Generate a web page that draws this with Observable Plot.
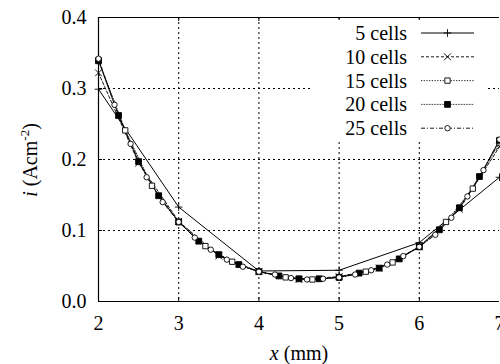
<!DOCTYPE html>
<html><head><meta charset="utf-8">
<script src="https://cdn.jsdelivr.net/npm/d3@7"></script>
<script src="https://cdn.jsdelivr.net/npm/@observablehq/plot@0.6"></script>
<style>
html,body{margin:0;padding:0;background:#fff;}
#chart svg{display:block;}
#chart svg, #chart svg text{font-family:"Liberation Serif","DejaVu Serif",serif !important;}
</style>
</head><body><div id="chart"></div>
<script>
const seriesNames = ["5 cells", "10 cells", "15 cells", "20 cells", "25 cells"];

const x5 = [2, 3, 4, 5, 6, 7];
const i5 = [0.299, 0.133, 0.043, 0.044, 0.083, 0.175];

const x10 = [2, 2.5, 3, 3.5, 4, 4.5, 5, 5.5, 6, 6.5, 7];
const i10 = [0.322, 0.195, 0.113, 0.064, 0.042, 0.031, 0.035, 0.047, 0.077, 0.130, 0.218];

const x15 = [2, 2.333, 2.667, 3, 3.333, 3.667, 4, 4.333, 4.667, 5, 5.333, 5.667, 6, 6.333, 6.667, 7];
const i15 = [0.340, 0.241, 0.163, 0.112, 0.078, 0.056, 0.042, 0.034, 0.031, 0.034, 0.042, 0.055, 0.077, 0.112, 0.159, 0.224];

const x20 = [2, 2.25, 2.5, 2.75, 3, 3.25, 3.5, 3.75, 4, 4.25, 4.5, 4.75, 5, 5.25, 5.5, 5.75, 6, 6.25, 6.5, 6.75, 7];
const i20 = [0.339, 0.262, 0.197, 0.149, 0.112, 0.085, 0.066, 0.052, 0.042, 0.036, 0.032, 0.032, 0.034, 0.040, 0.047, 0.060, 0.077, 0.101, 0.132, 0.176, 0.227];

const x25 = [2, 2.2, 2.4, 2.6, 2.8, 3, 3.2, 3.4, 3.6, 3.8, 4, 4.2, 4.4, 4.6, 4.8, 5, 5.2, 5.4, 5.6, 5.8, 6, 6.2, 6.4, 6.6, 6.8, 7];
const i25 = [0.342, 0.277, 0.222, 0.175, 0.140, 0.112, 0.090, 0.073, 0.059, 0.049, 0.042, 0.038, 0.033, 0.031, 0.032, 0.034, 0.038, 0.044, 0.052, 0.064, 0.077, 0.094, 0.118, 0.148, 0.185, 0.228];

const xTicks = [2, 3, 4, 5, 6, 7];
const yTicks = [0, 0.1, 0.2, 0.3, 0.4];
const xGrid = [3, 4, 5, 6];
const yGrid = [0.1, 0.2, 0.3];

const seriesX = [x5, x10, x15, x20, x25];
const seriesY = [i5, i10, i15, i20, i25];

const styles = [
  {dash: null, symbol: "plus", d3sym: d3.symbolPlus, fill: "none", stroke: "black", r: 2.6, sw: 1},
  {dash: "3,2", symbol: "times", d3sym: d3.symbolTimes, fill: "none", stroke: "black", r: 3.2, sw: 0.9},
  {dash: "1.2,1.5", symbol: "square", d3sym: d3.symbolSquare, fill: "white", stroke: "black", r: 3, sw: 0.9},
  {dash: "0.8,0.8", symbol: "square", d3sym: d3.symbolSquare, fill: "black", stroke: "black", r: 3.3, sw: 0.9},
  {dash: "4,2,1,2", symbol: "circle", d3sym: d3.symbolCircle, fill: "white", stroke: "black", r: 2.7, sw: 0.9}
];

const tables = seriesNames.map((name, k) => seriesX[k].map((x, j) => ({x, i: seriesY[k][j], name})));

const marks = [
  Plot.gridX(xGrid, {stroke: "black", strokeOpacity: 1, strokeWidth: 1, strokeDasharray: "2,3"}),
  Plot.gridY(yGrid, {stroke: "black", strokeOpacity: 1, strokeWidth: 1, strokeDasharray: "2,3"}),
  Plot.tickX(xGrid, {x: d => d, stroke: "black", insetBottom: 280}),
  Plot.tickX(xGrid, {x: d => d, stroke: "black", insetTop: 280}),
  Plot.tickY(yGrid, {y: d => d, stroke: "black", insetRight: 397}),
  Plot.ruleY([0, 0.4], {stroke: "black", strokeWidth: 1.2}),
  Plot.ruleX([2], {stroke: "black", strokeWidth: 1.2}),
  Plot.axisX(xTicks, {tickSize: 0, tickPadding: 14, fontSize: 20, tickFormat: d => String(d), label: null}),
  Plot.axisY(yTicks, {tickSize: 0, tickPadding: 12, fontSize: 20, tickFormat: d3.format(".1f"), label: null})
];

tables.forEach((t, k) => {
  const s = styles[k];
  marks.push(Plot.line(t, {x: "x", y: "i", stroke: "black", strokeWidth: s.sw, strokeDasharray: s.dash}));
});
tables.forEach((t, k) => {
  const s = styles[k];
  marks.push(Plot.dot(t, {x: "x", y: "i", symbol: () => s.symbol, r: s.r, fill: s.fill, stroke: s.stroke, strokeWidth: 0.9}));
});

const chart = Plot.plot({
  width: 500,
  height: 364,
  marginLeft: 98,
  marginRight: 1,
  marginTop: 17,
  marginBottom: 63,
  x: {domain: [2, 7]},
  y: {domain: [0, 0.4]},
  symbol: {type: "identity"},
  style: {fontSize: "20px", color: "black", background: "white", overflow: "hidden"},
  marks
});

const svg = d3.select(chart);
const serif = "Liberation Serif, DejaVu Serif, serif";
svg.attr("font-family", serif).style("font-family", serif);

// axis labels
const xl = svg.append("text")
  .attr("x", 299).attr("y", 360)
  .attr("text-anchor", "middle")
  .attr("font-size", 20).attr("fill", "black");
xl.append("tspan").attr("font-style", "italic").text("x");
xl.append("tspan").text(" (mm)");

const yl = svg.append("text")
  .attr("transform", "translate(37,160) rotate(-90)")
  .attr("text-anchor", "middle")
  .attr("font-size", 20).attr("fill", "black");
yl.append("tspan").attr("font-style", "italic").text("i");
yl.append("tspan").text(" (Acm");
yl.append("tspan").attr("font-size", 13).attr("dy", -8).text("-2");
yl.append("tspan").attr("dy", 8).text(")");

// legend
const lg = svg.append("g");
lg.append("rect").attr("x", 310).attr("y", 20).attr("width", 177).attr("height", 120).attr("fill", "white");
seriesNames.forEach((name, k) => {
  const s = styles[k];
  const cy = 33 + k * 23.8;
  lg.append("text").attr("x", 407).attr("y", cy).attr("dy", "0.35em")
    .attr("text-anchor", "end").attr("font-size", 20).attr("fill", "black").text(name);
  lg.append("line").attr("x1", 421).attr("x2", 474).attr("y1", cy).attr("y2", cy)
    .attr("stroke", "black").attr("stroke-width", s.sw)
    .attr("stroke-dasharray", s.dash);
  lg.append("path").attr("transform", `translate(447.5,${cy})`)
    .attr("d", d3.symbol(s.d3sym, Math.PI * s.r * s.r)())
    .attr("fill", s.fill).attr("stroke", s.stroke).attr("stroke-width", 0.9);
});

document.getElementById("chart").appendChild(chart);
</script>
</body></html>
